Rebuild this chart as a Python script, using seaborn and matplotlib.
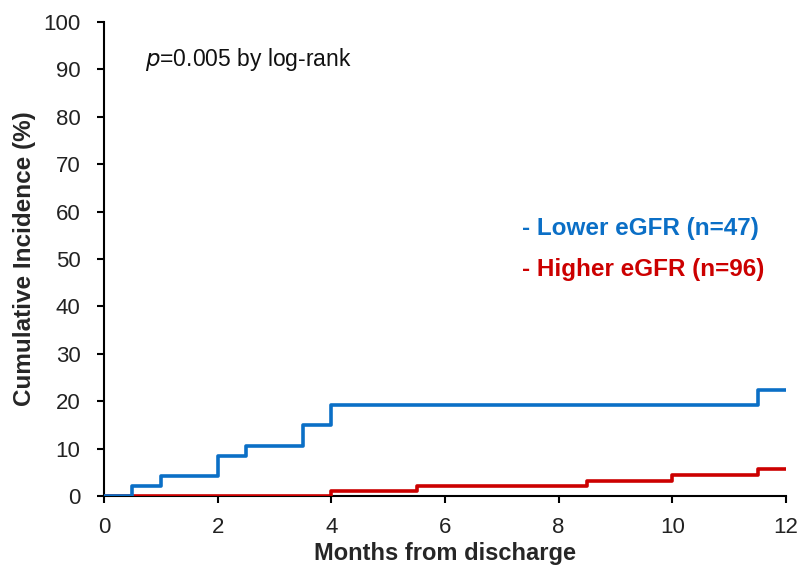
import matplotlib
matplotlib.use("Agg")
import matplotlib.pyplot as plt
import seaborn as sns
import pandas as pd

# Data
lower_months = [0, 0.5, 1, 2, 2.5, 3.5, 4, 11.5, 12]
lower_incidence = [0, 2.1, 4.3, 8.5, 10.6, 14.9, 19.2, 22.3, 22.3]
higher_months = [0, 4, 5.5, 8.5, 10, 11.5, 12]
higher_incidence = [0, 1.0, 2.1, 3.2, 4.4, 5.7, 5.7]
group_labels = ["- Lower eGFR (n=47)", "- Higher eGFR (n=96)"]
x_ticks = [0, 2, 4, 6, 8, 10, 12]
y_ticks = [0, 10, 20, 30, 40, 50, 60, 70, 80, 90, 100]

blue = "#0B6FC6"
red = "#CC0000"

sns.set_style("ticks")
plt.rcParams['font.family'] = ['Liberation Sans', 'DejaVu Sans']

df = pd.concat([
    pd.DataFrame({"month": higher_months, "inc": higher_incidence, "grp": group_labels[1]}),
    pd.DataFrame({"month": lower_months, "inc": lower_incidence, "grp": group_labels[0]}),
])

fig = plt.figure(figsize=(8.08, 5.74), dpi=100)
ax = fig.add_axes([0.1287, 0.1359, 0.9728 - 0.1287, 0.9617 - 0.1359])

sns.lineplot(data=df, x="month", y="inc", hue="grp",
             palette={group_labels[0]: blue, group_labels[1]: red},
             estimator=None, sort=False, drawstyle="steps-post",
             linewidth=2.6, legend=False, ax=ax, zorder=3)

ax.set_xlim(0, 12)
ax.set_ylim(0, 100)
ax.set_xticks(x_ticks)
ax.set_yticks(y_ticks)
ax.tick_params(axis="both", labelsize=16, direction="out", length=5, width=1.5,
               colors="black", labelcolor="#222222")
ax.tick_params(axis="y", pad=12)
ax.tick_params(axis="x", pad=10)
for s in ["left", "bottom"]:
    ax.spines[s].set_linewidth(1.5)
    ax.spines[s].set_color("black")
sns.despine(ax=ax)

ax.set_xlabel("Months from discharge", fontsize=17, fontweight="bold", labelpad=3)
ax.set_ylabel("Cumulative Incidence (%)", fontsize=17.5, fontweight="bold", labelpad=5)

ax.text(0.72, 92, r"$p$=0.005 by log-rank", fontsize=16.5, va="center", ha="left", color="#111111")
ax.text(7.36, 56.5, group_labels[0], fontsize=17.5, fontweight="bold", color=blue, va="center", ha="left")
ax.text(7.36, 47.7, group_labels[1], fontsize=17.5, fontweight="bold", color=red, va="center", ha="left")

fig.savefig("out.png", dpi=100)
